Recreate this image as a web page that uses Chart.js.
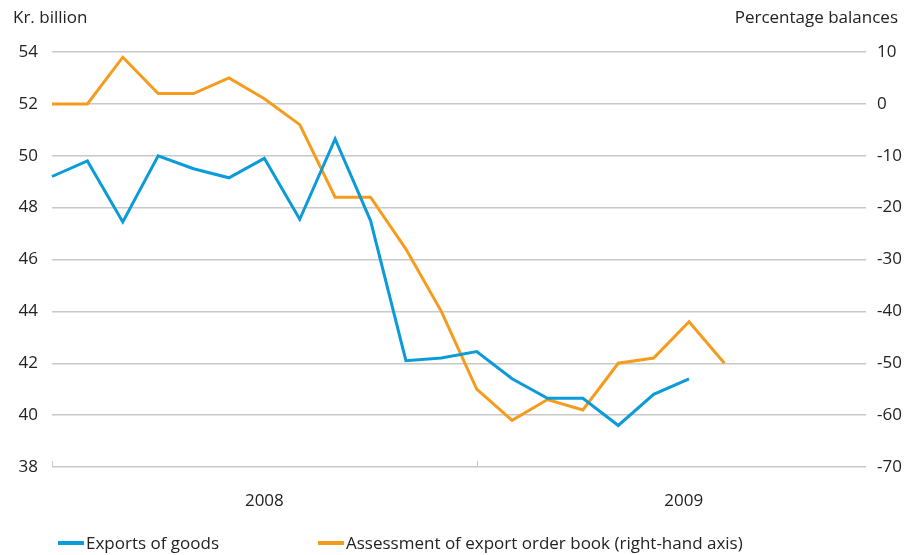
<!DOCTYPE html>
<html>
<head>
<meta charset="utf-8">
<script src="https://cdn.jsdelivr.net/npm/chart.js@4/dist/chart.umd.min.js"></script>
<style>
  html, body { margin: 0; padding: 0; background: #fff; }
  #wrap { position: relative; width: 908px; height: 555px; }
  #legend { position: absolute; left: 58px; top: 533px; display: flex; font: 17px/20px 'Open Sans', sans-serif; color: #222; }
  #legend .item { display: flex; align-items: center; }
  #legend .item:first-child { width: 260px; }
  #legend .mark { width: 26px; height: 4px; margin-right: 2px; }
</style>
</head>
<body>
<div id="wrap">
  <canvas id="chart" width="908" height="555"></canvas>
  <div id="legend"></div>
</div>
<script>
// months Jan 2008 - Dec 2009
const months = [
  'Jan 08', 'Feb 08', 'Mar 08', 'Apr 08', 'May 08', 'Jun 08', 'Jul 08', 'Aug 08', 'Sep 08', 'Oct 08', 'Nov 08', 'Dec 08',
  'Jan 09', 'Feb 09', 'Mar 09', 'Apr 09', 'May 09', 'Jun 09', 'Jul 09', 'Aug 09', 'Sep 09', 'Oct 09', 'Nov 09', 'Dec 09'
];
const years = ['2008', '2009'];
const exportsOfGoods = [49.2, 49.8, 47.45, 50.0, 49.5, 49.15, 49.9, 47.55, 50.65, 47.5, 42.1, 42.2,
  42.45, 41.4, 40.65, 40.65, 39.6, 40.8, 41.4];
const orderBook = [0, 0, 9, 2, 2, 5, 1, -4, -18, -18, -28, -40,
  -55, -61, -57, -59, -50, -49, -42, -50];
const leftTicks = [38, 54, 2];   // min, max, step
const rightTicks = [-70, 10, 10];

const blue = '#0a9bd8';
const orange = '#f59c1e';
const gridColor = '#c8c8c8';
const textColor = '#222';
const fontFamily = "'Open Sans', sans-serif";
const fontSize = 17;

// axis titles and the small year ticks
const extras = {
  id: 'extras',
  afterDraw(chart) {
    const ctx = chart.ctx;
    const x = chart.scales.x;
    const bottom = chart.chartArea.bottom;
    ctx.save();
    ctx.strokeStyle = gridColor;
    ctx.lineWidth = 1;
    [0, 12].forEach(function (i) {
      const px = Math.round(x.getPixelForValue(i)) + 0.5;
      ctx.beginPath();
      ctx.moveTo(px, bottom);
      ctx.lineTo(px, bottom - 6);
      ctx.stroke();
    });
    ctx.fillStyle = textColor;
    ctx.font = fontSize + 'px ' + fontFamily;
    ctx.textBaseline = 'middle';
    ctx.textAlign = 'left';
    ctx.fillText('Kr. billion', 13, 18);
    ctx.textAlign = 'right';
    ctx.fillText('Percentage balances', 898, 18);
    ctx.restore();
  }
};

const ctx = document.getElementById('chart').getContext('2d');
const chart = new Chart(ctx, {
  type: 'line',
  data: {
    labels: months,
    datasets: [
      {
        label: 'Exports of goods',
        data: exportsOfGoods,
        yAxisID: 'y',
        borderColor: blue,
        backgroundColor: blue,
        borderWidth: 3,
        pointRadius: 0,
        tension: 0
      },
      {
        label: 'Assessment of export order book (right-hand axis)',
        data: orderBook,
        yAxisID: 'y1',
        borderColor: orange,
        backgroundColor: orange,
        borderWidth: 3,
        pointRadius: 0,
        tension: 0
      }
    ]
  },
  options: {
    responsive: false,
    animation: false,
    layout: { padding: { top: 52, left: 0, right: 0, bottom: 0 } },
    plugins: {
      legend: { display: false },
      tooltip: { enabled: false }
    },
    scales: {
      x: {
        type: 'category',
        offset: false,
        border: { display: false },
        grid: { display: false },
        afterBuildTicks(scale) {
          // one label centred under each year
          scale.ticks = [{ value: 6 }, { value: 17.85 }];
        },
        afterFit(scale) { scale.height = 88; },
        ticks: {
          autoSkip: false,
          maxRotation: 0,
          padding: 16,
          color: textColor,
          font: { family: fontFamily, size: fontSize },
          callback: function (value) { return value < 12 ? years[0] : years[1]; }
        }
      },
      y: {
        position: 'left',
        min: leftTicks[0],
        max: leftTicks[1],
        border: { display: false },
        grid: { color: gridColor, lineWidth: 1.5, drawTicks: false },
        afterFit(scale) { scale.width = 52; },
        ticks: {
          stepSize: leftTicks[2],
          padding: 14,
          color: textColor,
          font: { family: fontFamily, size: fontSize }
        }
      },
      y1: {
        position: 'right',
        min: rightTicks[0],
        max: rightTicks[1],
        border: { display: false },
        grid: { drawOnChartArea: false, drawTicks: false },
        afterFit(scale) { scale.width = 42; },
        ticks: {
          stepSize: rightTicks[2],
          padding: 11,
          color: textColor,
          font: { family: fontFamily, size: fontSize }
        }
      }
    }
  },
  plugins: [extras]
});

// legend built from the datasets
const legend = document.getElementById('legend');
chart.data.datasets.forEach(function (ds) {
  const item = document.createElement('div');
  item.className = 'item';
  const mark = document.createElement('span');
  mark.className = 'mark';
  mark.style.background = ds.borderColor;
  const text = document.createElement('span');
  text.textContent = ds.label;
  item.appendChild(mark);
  item.appendChild(text);
  legend.appendChild(item);
});
</script>
</body>
</html>
